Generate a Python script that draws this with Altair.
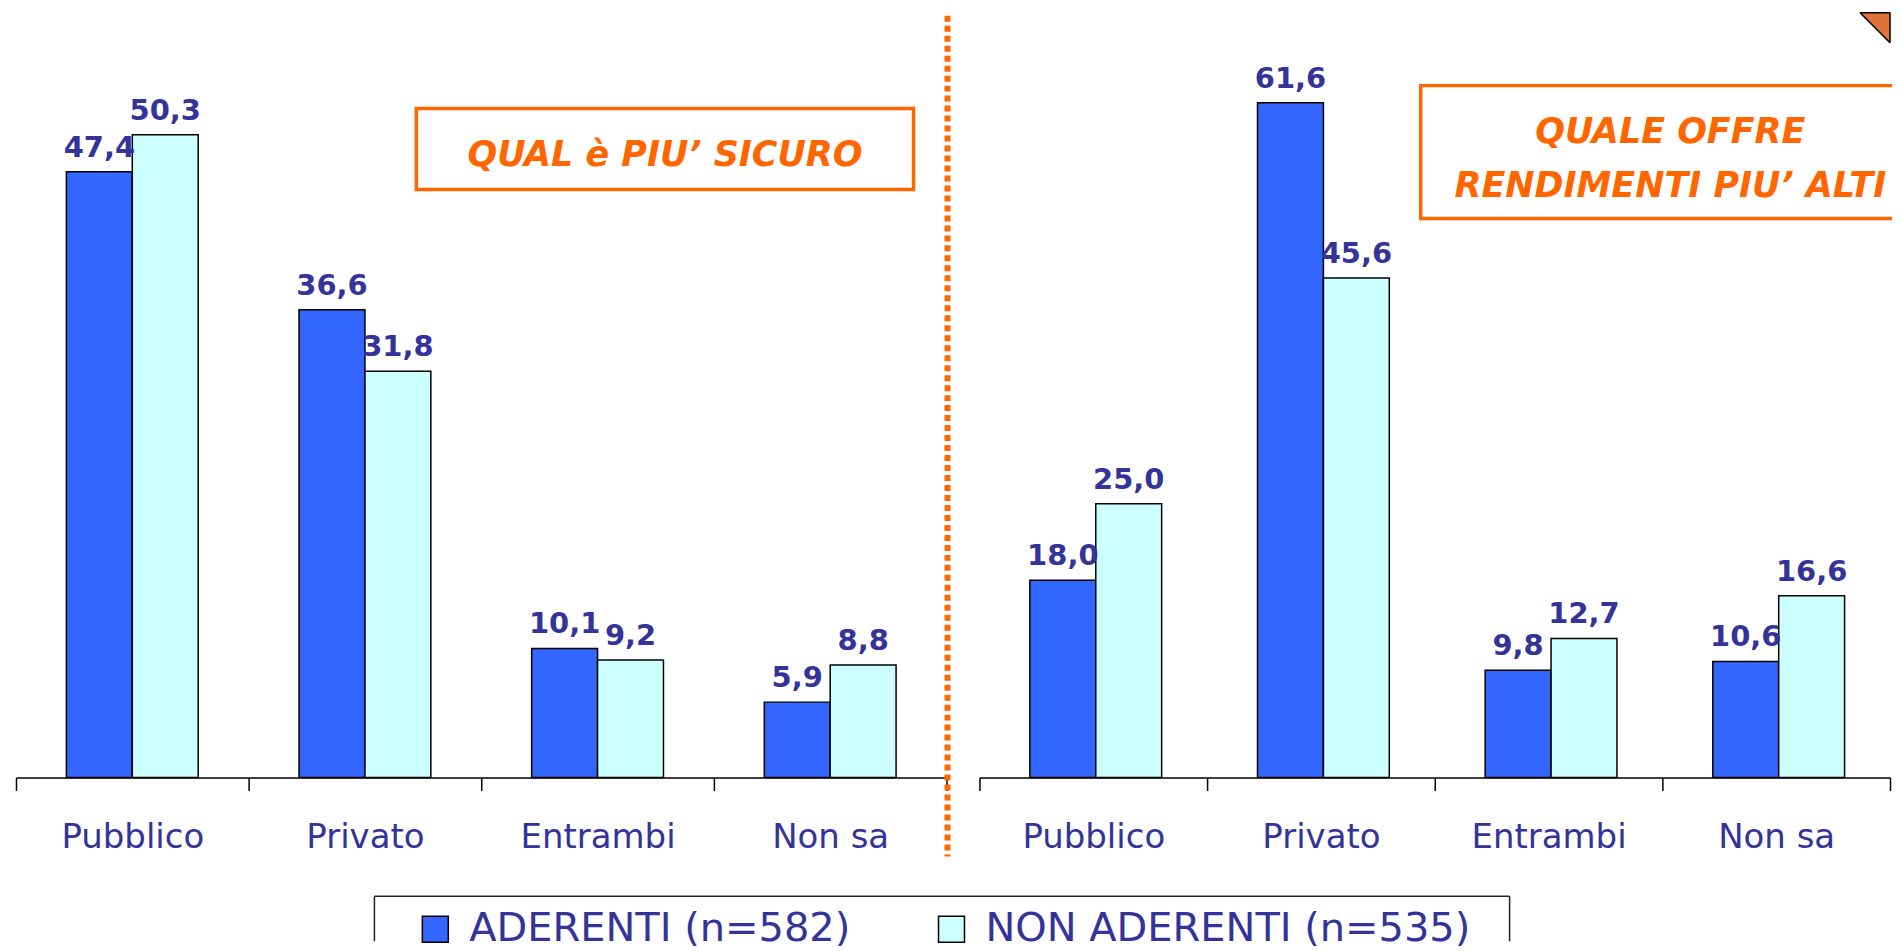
import altair as alt
import pandas as pd

categories = ["Pubblico", "Privato", "Entrambi", "Non sa"]
series = ["ADERENTI (n=582)", "NON ADERENTI (n=535)"]
sicuro_aderenti = [47.4, 36.6, 10.1, 5.9]
sicuro_non = [50.3, 31.8, 9.2, 8.8]
rend_aderenti = [18.0, 61.6, 9.8, 10.6]
rend_non = [25.0, 45.6, 12.7, 16.6]
colors = ["#3366FF", "#CCFFFF"]
title_left = "QUAL è PIU’ SICURO"
title_right = ["QUALE OFFRE", "RENDIMENTI PIU’ ALTI"]

BLUE_TXT = "#333399"
ORANGE = "#FF6600"
FONT = "DejaVu Sans"
H = 768


def frame(a, n):
    rows = []
    for c, va, vn in zip(categories, a, n):
        rows.append({"cat": c, "serie": series[0], "v": va})
        rows.append({"cat": c, "serie": series[1], "v": vn})
    return pd.DataFrame(rows)


one = pd.DataFrame({"k": [0]})


def panel(df, ymax, width):
    outer = (width / 4) / 66 / 2 - 1
    base = alt.Chart(df).encode(
        x=alt.X(
            "cat:N",
            sort=categories,
            scale=alt.Scale(paddingInner=0, paddingOuter=0),
            axis=alt.Axis(
                title=None,
                labelAngle=0,
                tickBand="extent",
                domainColor="black",
                domainWidth=1.5,
                tickColor="black",
                tickWidth=1.5,
                tickSize=13,
                labelFont=FONT,
                labelFontSize=34,
                labelColor=BLUE_TXT,
                labelBaseline="alphabetic",
                labelPadding=57,
                grid=False,
            ),
        ),
        xOffset=alt.XOffset(
            "serie:N", sort=series,
            scale=alt.Scale(paddingInner=0, paddingOuter=outer),
        ),
        y=alt.Y("v:Q", scale=alt.Scale(domain=[0, ymax], nice=False), axis=None),
    )
    bars = base.mark_bar(stroke="black", strokeWidth=1.5).encode(
        color=alt.Color(
            "serie:N",
            sort=series,
            scale=alt.Scale(domain=series, range=colors),
            legend=alt.Legend(
                title=None,
                orient="none",
                legendX=400,
                legendY=900,
                direction="horizontal",
                columns=2,
                columnPadding=81,
                symbolType="square",
                symbolSize=676,
                symbolStrokeColor="black",
                symbolStrokeWidth=1.5,
                symbolOpacity=1,
                labelFont=FONT,
                labelFontSize=40,
                labelColor=BLUE_TXT,
                labelOffset=14,
                labelLimit=0,
                padding=0,
            ),
        )
    )
    labels = base.transform_calculate(
        lab="replace(format(datum.v, '.1f'), '.', ',')"
    ).mark_text(
        font=FONT, fontSize=29, fontWeight="bold", color=BLUE_TXT,
        baseline="alphabetic", dy=-15,
    ).encode(text="lab:N")
    return bars + labels


def hrule(x1, x2, y, color, w):
    return alt.Chart(one).mark_rule(color=color, strokeWidth=w).encode(
        x=alt.value(x1), x2=alt.value(x2), y=alt.value(y))


def vrule(x, y1, y2, color, w):
    return alt.Chart(one).mark_rule(color=color, strokeWidth=w).encode(
        x=alt.value(x), y=alt.value(y1), y2=alt.value(y2))


WL, WR = 932, 912

left_box = alt.Chart(one).mark_rect(
    fillOpacity=0, stroke=ORANGE, strokeWidth=3.5
).encode(x=alt.value(401), x2=alt.value(899), y=alt.value(98), y2=alt.value(179))
left_text = alt.Chart(one).mark_text(
    font=FONT, fontSize=35, fontWeight="bold", fontStyle="italic", color=ORANGE,
    align="center", baseline="alphabetic",
).encode(x=alt.value(650), y=alt.value(156), text=alt.value(title_left))
divider = alt.Chart(one).mark_rule(
    color=ORANGE, strokeWidth=6, strokeDash=[6, 4]
).encode(x=alt.value(933), y=alt.value(5), y2=alt.value(847))
legend_frame = alt.layer(
    hrule(359, 1496, 887, "#222222", 1.5),
    vrule(359, 887, 932, "#222222", 1.5),
    vrule(1496, 887, 932, "#222222", 1.5),
)

right_frame = alt.layer(
    hrule(442, WR + 2, 75, ORANGE, 3.5),
    hrule(442, WR + 2, 208, ORANGE, 3.5),
    vrule(442, 73.25, 209.75, ORANGE, 3.5),
)
right_text1 = alt.Chart(one).mark_text(
    font=FONT, fontSize=35, fontWeight="bold", fontStyle="italic", color=ORANGE,
    align="center", baseline="alphabetic",
).encode(x=alt.value(692), y=alt.value(132), text=alt.value(title_right[0]))
right_text2 = alt.Chart(one).mark_text(
    font=FONT, fontSize=35, fontWeight="bold", fontStyle="italic", color=ORANGE,
    align="center", baseline="alphabetic",
).encode(x=alt.value(692), y=alt.value(187), text=alt.value(title_right[1]))
corner = alt.Chart(one).mark_point(
    shape="M-1,-1L1,-1L1,1Z", size=900, filled=True, fill="#E07438",
    stroke="black", strokeWidth=1.5, strokeJoin="bevel", opacity=1,
).encode(x=alt.value(WR - 15), y=alt.value(17))

left = alt.layer(
    panel(frame(sicuro_aderenti, sicuro_non), 60, WL),
    left_box, left_text, divider, legend_frame,
).properties(width=WL, height=H)

right = alt.layer(
    panel(frame(rend_aderenti, rend_non), 70, WR),
    right_frame, right_text1, right_text2, corner,
).properties(width=WR, height=H)

chart = alt.hconcat(left, right, spacing=33, bounds="flush").properties(
    padding={"left": 7, "top": 2, "right": 0, "bottom": 0}
).configure_view(stroke=None)

chart.save("out.html", embed_options={"renderer": "svg", "actions": False})
